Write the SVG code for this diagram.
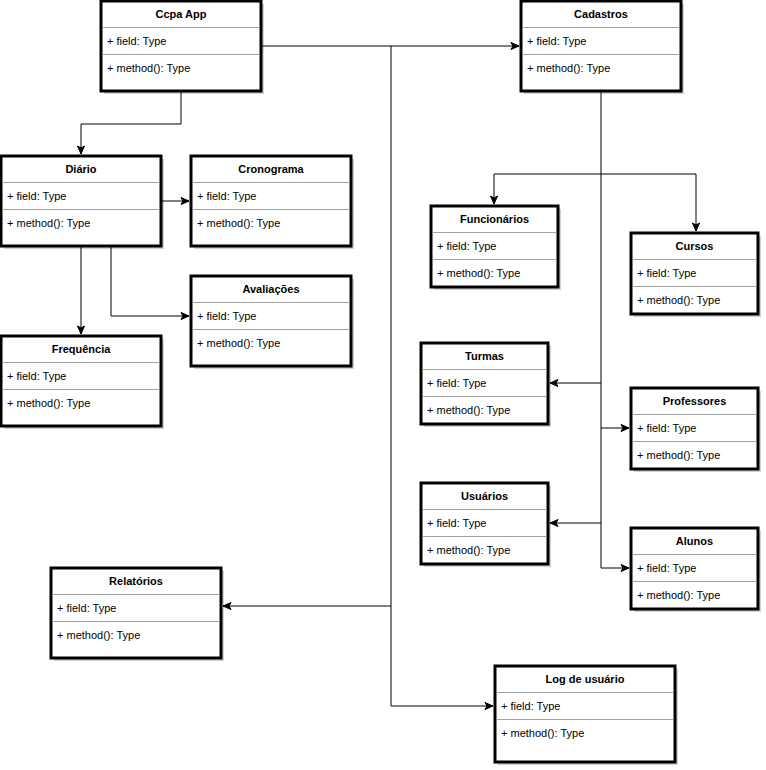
<svg xmlns="http://www.w3.org/2000/svg" width="766" height="770" viewBox="0 0 766 770">
<style>
.box{fill:#fff;stroke:#000;stroke-width:3}
.sh{fill:#000;opacity:0.18}
.sep{stroke:#a0a0a0;stroke-width:1}
.t{font-family:"Liberation Sans",Arial,sans-serif;font-size:11px;font-weight:bold;text-anchor:middle;fill:#000}
.f{font-family:"Liberation Sans",Arial,sans-serif;font-size:11px;fill:#000}
.c{fill:none;stroke:#000;stroke-width:1}
</style>
<defs>
<marker id="a" markerUnits="userSpaceOnUse" markerWidth="10" markerHeight="10" viewBox="0 0 10 10" refX="9" refY="5" orient="auto">
<path d="M1,1.5 L9,5 L1,8.5 L3,5 Z" fill="#000" stroke="#000" stroke-width="1"/>
</marker>
</defs>
<g id="connectors">
<path class="c" d="M261,46 H519" marker-end="url(#a)"/>
<path class="c" d="M391,46 V706 H493" marker-end="url(#a)"/>
<path class="c" d="M391,606 H223" marker-end="url(#a)"/>
<path class="c" d="M181,91 V124 H81 V154" marker-end="url(#a)"/>
<path class="c" d="M161,201 H189" marker-end="url(#a)"/>
<path class="c" d="M81,246 V334" marker-end="url(#a)"/>
<path class="c" d="M111,246 V316 H189" marker-end="url(#a)"/>
<path class="c" d="M601,91 V568 H629" marker-end="url(#a)"/>
<path class="c" d="M494,174 V204" marker-end="url(#a)"/>
<path class="c" d="M494,174 H696 V231" marker-end="url(#a)"/>
<path class="c" d="M601,383 H550" marker-end="url(#a)"/>
<path class="c" d="M601,428 H629" marker-end="url(#a)"/>
<path class="c" d="M601,523 H550" marker-end="url(#a)"/>
</g>
<g id="ccpa-app">
<rect class="sh" x="104" y="4" width="160" height="90"/>
<rect class="box" x="101" y="1" width="160" height="90"/>
<line class="sep" x1="102.5" y1="27.5" x2="259.5" y2="27.5"/>
<line class="sep" x1="102.5" y1="54.5" x2="259.5" y2="54.5"/>
<text class="t" x="181" y="18">Ccpa App</text>
<text class="f" x="107" y="45">+ field: Type</text>
<text class="f" x="107" y="72">+ method(): Type</text>
</g>
<g id="cadastros">
<rect class="sh" x="524" y="4" width="160" height="90"/>
<rect class="box" x="521" y="1" width="160" height="90"/>
<line class="sep" x1="522.5" y1="27.5" x2="679.5" y2="27.5"/>
<line class="sep" x1="522.5" y1="54.5" x2="679.5" y2="54.5"/>
<text class="t" x="601" y="18">Cadastros</text>
<text class="f" x="527" y="45">+ field: Type</text>
<text class="f" x="527" y="72">+ method(): Type</text>
</g>
<g id="diario">
<rect class="sh" x="4" y="159" width="160" height="90"/>
<rect class="box" x="1" y="156" width="160" height="90"/>
<line class="sep" x1="2.5" y1="182.5" x2="159.5" y2="182.5"/>
<line class="sep" x1="2.5" y1="209.5" x2="159.5" y2="209.5"/>
<text class="t" x="81" y="173">Diário</text>
<text class="f" x="7" y="200">+ field: Type</text>
<text class="f" x="7" y="227">+ method(): Type</text>
</g>
<g id="cronograma">
<rect class="sh" x="194" y="159" width="160" height="90"/>
<rect class="box" x="191" y="156" width="160" height="90"/>
<line class="sep" x1="192.5" y1="182.5" x2="349.5" y2="182.5"/>
<line class="sep" x1="192.5" y1="209.5" x2="349.5" y2="209.5"/>
<text class="t" x="271" y="173">Cronograma</text>
<text class="f" x="197" y="200">+ field: Type</text>
<text class="f" x="197" y="227">+ method(): Type</text>
</g>
<g id="avaliacoes">
<rect class="sh" x="194" y="279" width="160" height="90"/>
<rect class="box" x="191" y="276" width="160" height="90"/>
<line class="sep" x1="192.5" y1="302.5" x2="349.5" y2="302.5"/>
<line class="sep" x1="192.5" y1="329.5" x2="349.5" y2="329.5"/>
<text class="t" x="271" y="293">Avaliações</text>
<text class="f" x="197" y="320">+ field: Type</text>
<text class="f" x="197" y="347">+ method(): Type</text>
</g>
<g id="frequencia">
<rect class="sh" x="4" y="339" width="160" height="90"/>
<rect class="box" x="1" y="336" width="160" height="90"/>
<line class="sep" x1="2.5" y1="362.5" x2="159.5" y2="362.5"/>
<line class="sep" x1="2.5" y1="389.5" x2="159.5" y2="389.5"/>
<text class="t" x="81" y="353">Frequência</text>
<text class="f" x="7" y="380">+ field: Type</text>
<text class="f" x="7" y="407">+ method(): Type</text>
</g>
<g id="funcionarios">
<rect class="sh" x="434" y="209" width="127" height="81"/>
<rect class="box" x="431" y="206" width="127" height="81"/>
<line class="sep" x1="432.5" y1="232.5" x2="556.5" y2="232.5"/>
<line class="sep" x1="432.5" y1="259.5" x2="556.5" y2="259.5"/>
<text class="t" x="494.5" y="223">Funcionários</text>
<text class="f" x="437" y="250">+ field: Type</text>
<text class="f" x="437" y="277">+ method(): Type</text>
</g>
<g id="cursos">
<rect class="sh" x="634" y="236" width="127" height="81"/>
<rect class="box" x="631" y="233" width="127" height="81"/>
<line class="sep" x1="632.5" y1="259.5" x2="756.5" y2="259.5"/>
<line class="sep" x1="632.5" y1="286.5" x2="756.5" y2="286.5"/>
<text class="t" x="694.5" y="250">Cursos</text>
<text class="f" x="637" y="277">+ field: Type</text>
<text class="f" x="637" y="304">+ method(): Type</text>
</g>
<g id="turmas">
<rect class="sh" x="424" y="346" width="127" height="81"/>
<rect class="box" x="421" y="343" width="127" height="81"/>
<line class="sep" x1="422.5" y1="369.5" x2="546.5" y2="369.5"/>
<line class="sep" x1="422.5" y1="396.5" x2="546.5" y2="396.5"/>
<text class="t" x="484.5" y="360">Turmas</text>
<text class="f" x="427" y="387">+ field: Type</text>
<text class="f" x="427" y="414">+ method(): Type</text>
</g>
<g id="professores">
<rect class="sh" x="634" y="391" width="127" height="81"/>
<rect class="box" x="631" y="388" width="127" height="81"/>
<line class="sep" x1="632.5" y1="414.5" x2="756.5" y2="414.5"/>
<line class="sep" x1="632.5" y1="441.5" x2="756.5" y2="441.5"/>
<text class="t" x="694.5" y="405">Professores</text>
<text class="f" x="637" y="432">+ field: Type</text>
<text class="f" x="637" y="459">+ method(): Type</text>
</g>
<g id="usuarios">
<rect class="sh" x="424" y="486" width="127" height="81"/>
<rect class="box" x="421" y="483" width="127" height="81"/>
<line class="sep" x1="422.5" y1="509.5" x2="546.5" y2="509.5"/>
<line class="sep" x1="422.5" y1="536.5" x2="546.5" y2="536.5"/>
<text class="t" x="484.5" y="500">Usuários</text>
<text class="f" x="427" y="527">+ field: Type</text>
<text class="f" x="427" y="554">+ method(): Type</text>
</g>
<g id="alunos">
<rect class="sh" x="634" y="531" width="127" height="81"/>
<rect class="box" x="631" y="528" width="127" height="81"/>
<line class="sep" x1="632.5" y1="554.5" x2="756.5" y2="554.5"/>
<line class="sep" x1="632.5" y1="581.5" x2="756.5" y2="581.5"/>
<text class="t" x="694.5" y="545">Alunos</text>
<text class="f" x="637" y="572">+ field: Type</text>
<text class="f" x="637" y="599">+ method(): Type</text>
</g>
<g id="relatorios">
<rect class="sh" x="54" y="571" width="170" height="90"/>
<rect class="box" x="51" y="568" width="170" height="90"/>
<line class="sep" x1="52.5" y1="594.5" x2="219.5" y2="594.5"/>
<line class="sep" x1="52.5" y1="621.5" x2="219.5" y2="621.5"/>
<text class="t" x="136" y="585">Relatórios</text>
<text class="f" x="57" y="612">+ field: Type</text>
<text class="f" x="57" y="639">+ method(): Type</text>
</g>
<g id="log-de-usuario">
<rect class="sh" x="498" y="669" width="180" height="96"/>
<rect class="box" x="495" y="666" width="180" height="96"/>
<line class="sep" x1="496.5" y1="692.5" x2="673.5" y2="692.5"/>
<line class="sep" x1="496.5" y1="719.5" x2="673.5" y2="719.5"/>
<text class="t" x="585" y="683">Log de usuário</text>
<text class="f" x="501" y="710">+ field: Type</text>
<text class="f" x="501" y="737">+ method(): Type</text>
</g>
</svg>
